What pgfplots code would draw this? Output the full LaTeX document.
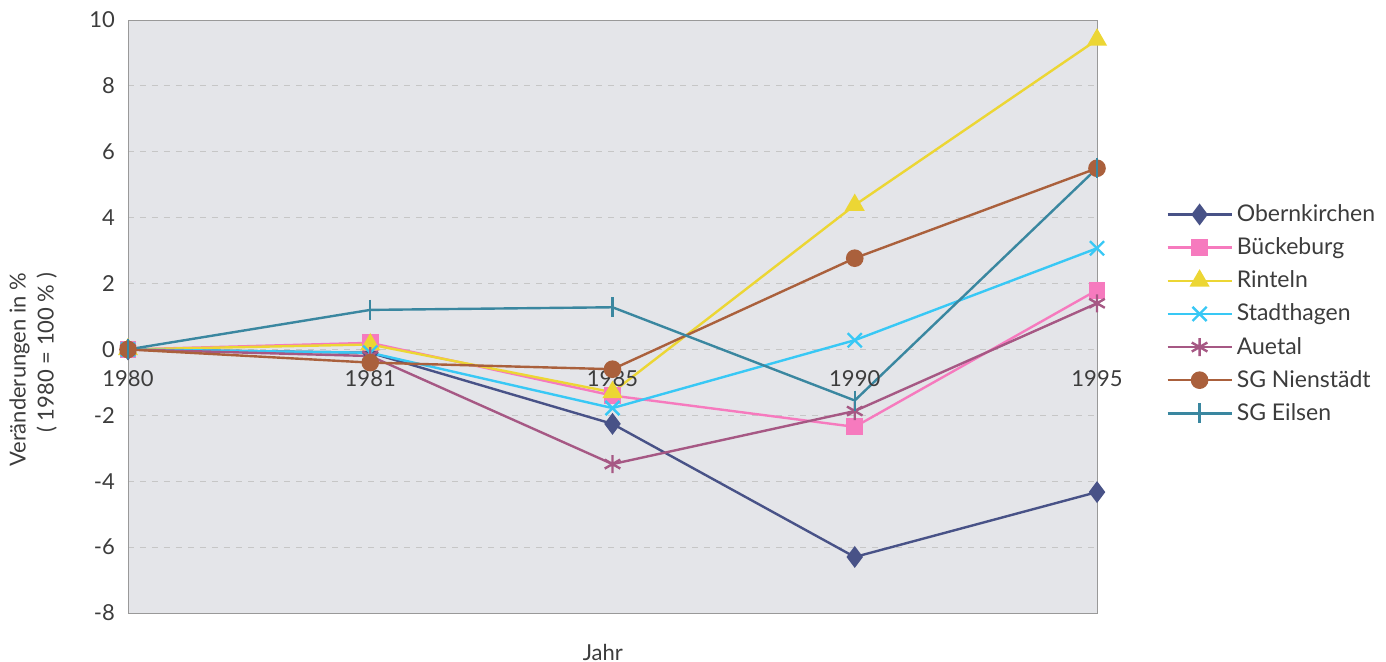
\documentclass[border=0pt]{standalone}
\usepackage{pgfplots}
\pgfplotsset{compat=1.18}
\usepackage{fontspec}
\setmainfont{Lato}

\definecolor{bgplot}{RGB}{228,229,233}
\definecolor{txt}{RGB}{60,60,60}
\definecolor{cobern}{RGB}{72,82,135}
\definecolor{cbueck}{RGB}{246,122,190}
\definecolor{crint}{RGB}{236,214,52}
\definecolor{cstadt}{RGB}{56,200,245}
\definecolor{cauet}{RGB}{166,88,132}
\definecolor{cnien}{RGB}{170,96,60}
\definecolor{ceils}{RGB}{58,135,160}

\begin{document}
\begin{tikzpicture}
\useasboundingbox (-64pt,-24.5pt) rectangle (629pt,306.5pt);
\begin{axis}[
    at={(0,0)}, anchor=south west,
    scale only axis, width=484.5pt, height=296.5pt,
    xmin=0, xmax=4, ymin=-8, ymax=10,
    clip=false,
    xtick=\empty,
    ytick={-8,-6,...,10},
    major tick length=0pt,
    ymajorgrids,
    grid style={dashed, gray!45},
    axis background/.style={fill=bgplot},
    axis line style={gray!80},
    tick label style={font=\fontsize{11}{13}\selectfont, text=txt},
    /pgf/number format/assume math mode=true,
    yticklabel style={xshift=-3pt},
    xlabel={Jahr},
    xlabel style={at={(axis description cs:0.49,-0.066)}, anchor=center, font=\fontsize{11}{13}\selectfont, text=txt},
    ylabel={Veränderungen in \%\\( 1980 = 100 \% )},
    ylabel style={at={(axis description cs:-0.098,0.41)}, anchor=center, align=right, font=\fontsize{11}{14}\selectfont, text=txt},
    legend style={at={(axis description cs:1.065,0.703)}, anchor=north west, draw=none, fill=none,
        font=\fontsize{11.5}{13}\selectfont, text=txt, row sep=2.6pt},
    legend cell align=left,
    legend image code/.code={\draw[mark repeat=2, mark phase=2] plot coordinates {(0pt,0pt) (16pt,0pt) (32pt,0pt)};},
    every axis plot/.append style={line width=1.2pt},
]
\addplot[cobern, mark=diamond*, mark size=4.5pt] coordinates {(0,0) (1,-0.1) (2,-2.26) (3,-6.3) (4,-4.33)};
\addplot[cbueck, mark=square*, mark size=3.6pt] coordinates {(0,0) (1,0.2) (2,-1.4) (3,-2.35) (4,1.8)};
\addplot[crint, mark=triangle*, mark size=4.6pt] coordinates {(0,0) (1,0.15) (2,-1.3) (3,4.38) (4,9.4)};
\addplot[cstadt, mark=x, mark size=5pt] coordinates {(0,0) (1,-0.1) (2,-1.78) (3,0.28) (4,3.07)};
\addplot[cauet, mark=asterisk, mark size=4.5pt] coordinates {(0,0) (1,-0.2) (2,-3.48) (3,-1.87) (4,1.4)};
\addplot[cnien, mark=*, mark size=3.8pt] coordinates {(0,0) (1,-0.4) (2,-0.6) (3,2.77) (4,5.5)};
\addplot[ceils, mark=|, mark size=5pt] coordinates {(0,0) (1,1.2) (2,1.28) (3,-1.55) (4,5.5)};
\legend{Obernkirchen, Bückeburg, Rinteln, Stadthagen, Auetal, SG Nienstädt, SG Eilsen}
\node[anchor=north, text=txt, font=\fontsize{11}{13}\selectfont, yshift=-7pt] at (axis cs:0,0) {1980};
\node[anchor=north, text=txt, font=\fontsize{11}{13}\selectfont, yshift=-7pt] at (axis cs:1,0) {1981};
\node[anchor=north, text=txt, font=\fontsize{11}{13}\selectfont, yshift=-7pt] at (axis cs:2,0) {1985};
\node[anchor=north, text=txt, font=\fontsize{11}{13}\selectfont, yshift=-7pt] at (axis cs:3,0) {1990};
\node[anchor=north, text=txt, font=\fontsize{11}{13}\selectfont, yshift=-7pt] at (axis cs:4,0) {1995};
\end{axis}
\end{tikzpicture}
\end{document}
